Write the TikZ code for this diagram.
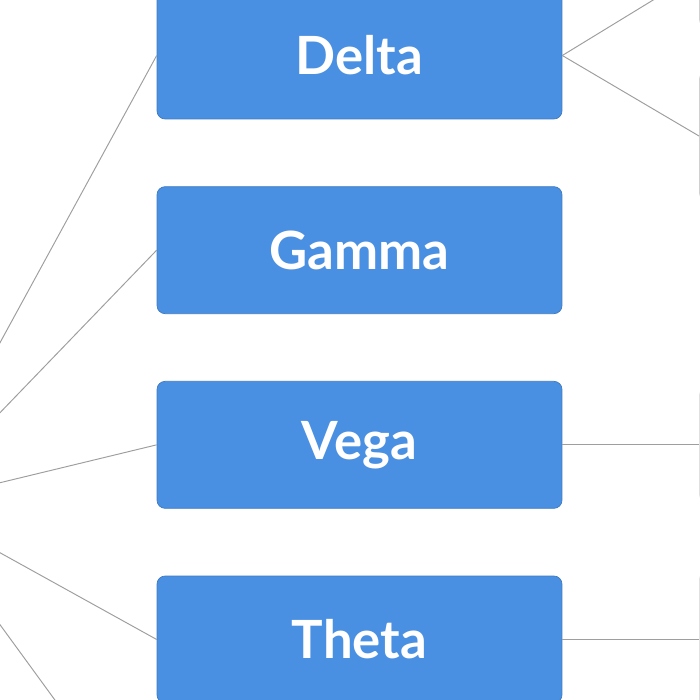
\documentclass[tikz,border=0pt]{standalone}
\usepackage{fontspec}
\setmainfont{Lato}
\definecolor{TopicBlue}{RGB}{74, 144, 226}
\definecolor{LinkGrey}{RGB}{158, 158, 158}
\definecolor{LeafGrey}{RGB}{208, 208, 208}
\usetikzlibrary{positioning}
\tikzset{
  topic/.style={rectangle, rounded corners=0.16cm, draw=TopicBlue!85!black,
                line width=0.4pt, fill=TopicBlue, inner sep=0pt,
                minimum width=8.1cm, minimum height=2.54cm,
                font=\fontsize{30}{36}\selectfont\bfseries, text=white},
  leaf/.style={rectangle, rounded corners=0.16cm, draw=LeafGrey, fill=white,
               line width=0.5pt, minimum width=6cm, minimum height=#1, anchor=west},
  link/.style={draw=LinkGrey, line width=0.55pt},
}

\begin{document}
\begin{tikzpicture}[x=0.02cm, y=-0.02cm]
      \path[use as bounding box, clip] (0,0) rectangle (700,700);

      \node[topic] (delta) at (359.5,55.5) {Delta};
      \node[topic, below=1.34cm of delta] (gamma) {Gamma};
      \node[topic, below=1.34cm of gamma] (vega) {Vega};
      \node[topic, below=1.34cm of vega] (theta) {Theta};

      % off-page ends
      \coordinate (root) at (-88,504);
      \coordinate (next) at (157,840);

      % leaves on the right
      \node[leaf=2.2cm] (dleafa) at (699,-28) {};
      \node[leaf=2.58cm] (dleafb) at (699,136) {};
      \node[leaf=2.3cm, right=2.74cm of vega] (vleaf) {};
      \node[leaf=2.72cm, right=2.74cm of theta] (tleaf) {};

      \draw[link] (root) -- (delta.west);
      \draw[link] (root) -- (gamma.west);
      \draw[link] (root) -- (vega.west);
      \draw[link] (root) -- (theta.west);
      \draw[link] (root) -- (next);

      \draw[link] (delta.east) -- (dleafa.west);
      \draw[link] (delta.east) -- (dleafb.west);
      \draw[link] (vega.east) -- (vleaf.west);
      \draw[link] (theta.east) -- (tleaf.west);
    \end{tikzpicture}
\end{document}
